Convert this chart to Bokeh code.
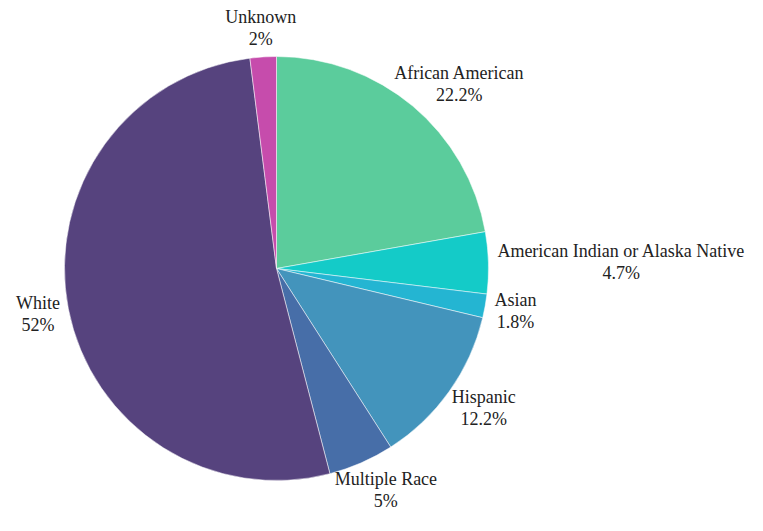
import math
from bokeh.plotting import figure
from bokeh.models import Range1d, ColumnDataSource
from bokeh.core.properties import value
from bokeh.embed import file_html
from bokeh.resources import INLINE

categories = ["African American", "American Indian or Alaska Native", "Asian",
              "Hispanic", "Multiple Race", "White", "Unknown"]
percents = [22.2, 4.7, 1.8, 12.2, 5.0, 52.0, 2.0]
pct_labels = ["22.2%", "4.7%", "1.8%", "12.2%", "5%", "52%", "2%"]
colors = ["#5bcc9c", "#14cbc8", "#24b5d2", "#4394bc", "#476ea8", "#56437e", "#c64cac"]

W, H = 747, 515
CX, CY, R = 276, -268, 212
FONT = "Liberation Serif"
FS = 18
GAP = 12
LINE = 22

total = sum(percents)
starts, ends, mids = [], [], []
cum = 0.0
for v in percents:
    f = v / total
    s = math.pi / 2 - 2 * math.pi * cum
    e = math.pi / 2 - 2 * math.pi * (cum + f)
    starts.append(s)
    ends.append(e)
    mids.append((s + e) / 2)
    cum += f

src = ColumnDataSource(dict(start=starts, end=ends, color=colors, cat=categories))

p = figure(width=W, height=H, output_backend="svg", toolbar_location=None,
           x_range=Range1d(0, W), y_range=Range1d(-H, 0),
           min_border=0, outline_line_color=None, background_fill_color="white",
           border_fill_color="white")
p.axis.visible = False
p.grid.visible = False

p.wedge(x=CX, y=CY, radius=R, start_angle="start", end_angle="end",
        direction="clock", fill_color="color", line_color="white",
        line_width=0.5, source=src)

nx, ny, px, py = [], [], [], []
for name, pct, m in zip(categories, pct_labels, mids):
    c, s = math.cos(m), math.sin(m)
    ax = CX + (R + GAP) * c
    ay = CY + (R + GAP) * s
    w = max(len(name), len(pct)) * 0.42 * FS
    half_h = LINE * 0.75 if s > 0 else LINE * 0.8
    bx = ax + c * w / 2
    by = ay + s * half_h
    nx.append(bx)
    ny.append(by + LINE / 2)
    px.append(bx)
    py.append(by - LINE / 2)

p.text(x=nx, y=ny, text=categories, text_font=value(FONT), text_font_size=f"{FS}px",
       text_align="center", text_baseline="middle", text_color="#222222")
p.text(x=px, y=py, text=pct_labels, text_font=value(FONT), text_font_size=f"{FS}px",
       text_align="center", text_baseline="middle", text_color="#222222")

open("out.html", "w").write(file_html(p, INLINE))
